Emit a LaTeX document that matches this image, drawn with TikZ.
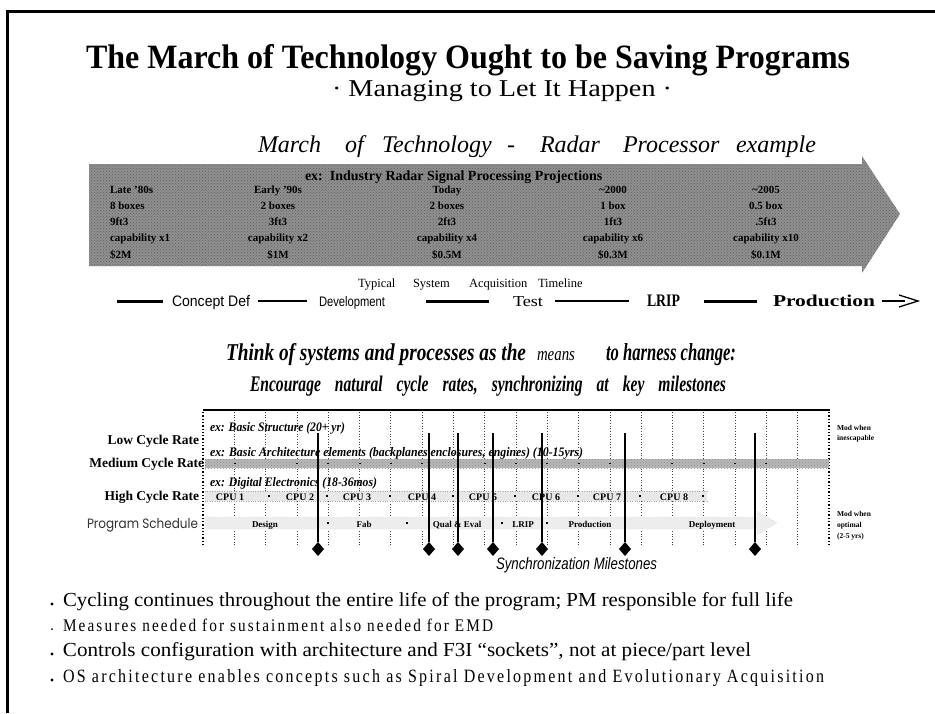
\documentclass[tikz,border=0pt]{standalone}
\usepackage{fontspec}
\usepackage{graphicx}
\setmainfont{Liberation Serif}
\setsansfont{Liberation Sans}
\newfontfamily\gothicfont{Poppins}
\usetikzlibrary{shapes.geometric,patterns,calc}
\newcommand{\fitbox}[3]{\resizebox{#1pt}{#2pt}{#3}}

\begin{document}
\begin{tikzpicture}[x=1pt,y=-1pt,
  every node/.style={inner sep=0pt,outer sep=0pt},
  lbl/.style={anchor=base west},
  bandtxt/.style={font=\fontsize{11}{11}\selectfont\bfseries},
  bandcol/.style={anchor=base,font=\fontsize{11}{11}\selectfont\bfseries},
  mword/.style={anchor=base west,font=\fontsize{24}{24}\selectfont\itshape},
  tword/.style={anchor=base west,font=\fontsize{12.5}{12.5}\selectfont},
  ratelbl/.style={anchor=base east,font=\fontsize{13.5}{14}\selectfont\bfseries},
  cpu/.style={anchor=base,font=\fontsize{10}{10}\selectfont\bfseries},
  sched/.style={anchor=base,font=\fontsize{9}{9}\selectfont\bfseries},
  modnote/.style={anchor=base west,font=\fontsize{7.5}{7.5}\selectfont\bfseries},
  gridline/.style={dotted,line width=0.7pt,black!75},
  stone/.style={diamond,fill=black,minimum width=12pt,minimum height=14pt},
  cpudot/.style={fill=black,minimum size=2.6pt},
  banddot/.style={fill=black,minimum size=1.8pt},
  thickphase/.style={line width=3pt},
  thinphase/.style={line width=1.5pt},
  bulletdot/.style={circle,fill=black,minimum size=3.4pt},
  bullettxt/.style={anchor=base west}
]
\useasboundingbox (0,0) rectangle (935,713);
\fill[white] (0,0) rectangle (935,713);

% page frame (left and top edges)
\draw[line width=3pt] (7,713) -- (7,11) -- (935,11);

% ---- headings ----
\node[lbl] (title) at (86,68) {\fitbox{764}{24}{\bfseries The March of Technology Ought to be Saving Programs}};
\node[lbl] (subtitle) at (332,96) {\fitbox{340}{16}{· Managing to Let It Happen ·}};

\node[mword] (w1) at (258,152) {March};
\node[mword] (w2) at (345,152) {of};
\node[mword] (w3) at (382,152) {Technology};
\node[mword] (w4) at (507,152) {-};
\node[mword] (w5) at (540,152) {Radar};
\node[mword] (w6) at (623,152) {Processor};
\node[mword] (w7) at (736,152) {example};

% ---- grey projection arrow ----
\path[fill=black!44] (89,164) -- (862,164) -- (862,156) -- (900,214) -- (862,273) -- (862,266) -- (89,266) -- cycle;
\path[pattern=crosshatch dots,pattern color=black!62] (89,164) -- (862,164) -- (862,156) -- (900,214) -- (862,273) -- (862,266) -- (89,266) -- cycle;

\node[lbl,font=\fontsize{14}{14}\selectfont\bfseries] (proj) at (305,180) {ex:\ \ Industry Radar Signal Processing Projections};

\node[lbl,bandtxt] (c1r1) at (110,193) {Late '80s};
\node[lbl,bandtxt] (c1r2) at (110,209) {8 boxes};
\node[lbl,bandtxt] (c1r3) at (110,225) {9ft3};
\node[lbl,bandtxt] (c1r4) at (110,241) {capability x1};
\node[lbl,bandtxt] (c1r5) at (110,258) {\$2M};

\node[bandcol] (c2r1) at (278,193) {Early '90s};
\node[bandcol] (c2r2) at (278,209) {2 boxes};
\node[bandcol] (c2r3) at (278,225) {3ft3};
\node[bandcol] (c2r4) at (278,241) {capability x2};
\node[bandcol] (c2r5) at (278,258) {\$1M};

\node[bandcol] (c3r1) at (447,193) {Today};
\node[bandcol] (c3r2) at (447,209) {2 boxes};
\node[bandcol] (c3r3) at (447,225) {2ft3};
\node[bandcol] (c3r4) at (447,241) {capability x4};
\node[bandcol] (c3r5) at (447,258) {\$0.5M};

\node[bandcol] (c4r1) at (613,193) {\textasciitilde2000};
\node[bandcol] (c4r2) at (613,209) {1 box};
\node[bandcol] (c4r3) at (613,225) {1ft3};
\node[bandcol] (c4r4) at (613,241) {capability x6};
\node[bandcol] (c4r5) at (613,258) {\$0.3M};

\node[bandcol] (c5r1) at (766,193) {\textasciitilde2005};
\node[bandcol] (c5r2) at (766,209) {0.5 box};
\node[bandcol] (c5r3) at (766,225) {.5ft3};
\node[bandcol] (c5r4) at (766,241) {capability x10};
\node[bandcol] (c5r5) at (766,258) {\$0.1M};

% ---- typical acquisition timeline ----
\node[tword] (t1) at (358,287) {Typical};
\node[tword] (t2) at (413,287) {System};
\node[tword] (t3) at (469,287) {Acquisition};
\node[tword] (t4) at (538,287) {Timeline};

\node[lbl] (cdef) at (172,306) {\fitbox{78}{11}{\sffamily Concept Def}};
\node[lbl] (dev) at (319,306) {\fitbox{66}{10}{\sffamily Development}};
\node[lbl] (test) at (513,306) {\fitbox{30}{10}{Test}};
\node[lbl] (lrip) at (647,306) {\fitbox{33}{11.5}{\bfseries LRIP}};
\node[lbl] (prod) at (773,306) {\fitbox{102}{11.5}{\bfseries Production}};

\coordinate (p0) at (117,301);
\coordinate (p1) at (163,301);
\coordinate (p2) at (258,301);
\coordinate (p3) at (307,301);
\coordinate (p4) at (426,301);
\coordinate (p5) at (489,301);
\coordinate (p6) at (555,301);
\coordinate (p7) at (629,301);
\coordinate (p8) at (704,301);
\coordinate (p9) at (757,301);
\coordinate (a0) at (882,301);
\coordinate (a1) at (905,301);
\coordinate (a2) at (918,301);
\draw[thickphase] (p0) -- (p1);
\draw[thinphase] (p2) -- (p3);
\draw[thickphase] (p4) -- (p5);
\draw[thinphase] (p6) -- (p7);
\draw[thickphase] (p8) -- (p9);
\draw[line width=2.2pt] (a0) -- (a1);
\draw[line width=1.3pt] ($(a2)+(-19,-6)$) -- (a2) -- ($(a2)+(-19,6)$);

% ---- message ----
\node[lbl] (think1) at (226,360) {\fitbox{300}{17}{\bfseries\itshape Think of systems and processes as the}};
\node[lbl] (think2) at (537,360) {\fitbox{38}{9}{\itshape means}};
\node[lbl] (think3) at (606,360) {\fitbox{130}{17}{\bfseries\itshape to harness change:}};
\node[lbl] (enc) at (250,391) {\fitbox{476}{15.5}{\bfseries\itshape Encourage\hspace{0.9em}natural\hspace{0.9em}cycle\hspace{0.9em}rates,\hspace{0.9em}synchronizing\hspace{0.9em}at\hspace{0.9em}key\hspace{0.9em}milestones}};

% ---- cycle-rate chart ----
\foreach \k in {1,...,19}
  \draw[gridline] ({203+31.3*\k},412) -- ({203+31.3*\k},546);
\draw[dotted,line width=1.3pt] (203,412) -- (203,546);
\draw[dotted,line width=1.3pt] (829,412) -- (829,546);
\draw[line width=2pt] (203,410) -- (830,410);

% medium-rate band
\fill[black!28] (205,459) rectangle (829,468);
\fill[pattern=crosshatch dots,pattern color=black!45] (205,459) rectangle (829,468);

% high-rate band
\fill[black!9] (205,491) rectangle (707,501);
\draw[dotted,black!35] (205,491) -- (707,491) (205,501) -- (707,501);

% schedule arrow
\path[fill=black!7,draw=black!30,dotted] (205,517) -- (757,517) -- (757,511) -- (777,523) -- (757,535) -- (757,529) -- (205,529) -- cycle;

\node[ratelbl] (low) at (199,444) {Low Cycle Rate};
\node[ratelbl] (med) at (204,467) {Medium Cycle Rate};
\node[ratelbl] (high) at (199,500) {High Cycle Rate};
\node[anchor=base east] (prog) at (198,528) {\fitbox{111}{10}{\color{black!80}\gothicfont Program Schedule}};

\node[lbl] (ex1) at (210,431) {\fitbox{135}{9}{\bfseries\itshape ex: Basic Structure (20+ yr)}};
\node[lbl] (ex2) at (210,456) {\fitbox{373}{9}{\bfseries\itshape ex: Basic Architecture elements (backplanes enclosures, engines) (10-15yrs)}};
\node[lbl] (ex3) at (210,486) {\fitbox{167}{9}{\bfseries\itshape ex: Digital Electronics (18-36mos)}};

\node[cpu] (cpu1) at (230,500) {CPU 1};
\node[cpu] (cpu2) at (300,500) {CPU 2};
\node[cpu] (cpu3) at (357,500) {CPU 3};
\node[cpu] (cpu4) at (422,500) {CPU 4};
\node[cpu] (cpu5) at (483,500) {CPU 5};
\node[cpu] (cpu6) at (546,500) {CPU 6};
\node[cpu] (cpu7) at (607,500) {CPU 7};
\node[cpu] (cpu8) at (674,500) {CPU 8};
\foreach \x in {269,327,390,453,515,578,640,703}
  \node[cpudot] at (\x,496) {};
\foreach \x in {235,297,328,360,391,422,485,516,547,579,610,672,704,735,766}
  \node[banddot] at (\x,463.5) {};

\node[sched] (design) at (265,527) {Design};
\node[sched] (fab) at (364,527) {Fab};
\node[sched] (qual) at (457,527) {Qual \& Eval};
\node[sched] (lripb) at (523,527) {LRIP};
\node[sched] (prodb) at (590,527) {Production};
\node[sched] (deploy) at (712,527) {Deployment};
\foreach \x in {328,407,502,547}
  \node[cpudot] at (\x,523) {};

\node[modnote] (mod1a) at (837,430) {Mod when};
\node[modnote] (mod1b) at (837,440) {inescapable};
\node[modnote] (mod2a) at (837,516) {Mod when};
\node[modnote] (mod2b) at (837,527) {optimal};
\node[modnote] (mod2c) at (837,538) {(2-5 yrs)};

% synchronization milestones
\foreach \x [count=\i] in {318,429,458,493,542,625,755} {
  \coordinate (mt\i) at (\x,433);
  \node[stone] (ms\i) at (\x,549) {};
  \draw[line width=1.3pt] (mt\i) -- (ms\i.north);
}
\node[lbl] (sync) at (496,569) {\fitbox{161}{12}{\sffamily\itshape Synchronization Milestones}};

% ---- bullet list ----
\node[bulletdot] (b1) at (52,604) {};
\node[bullettxt] (l1) at (63,606) {\fitbox{730}{14}{Cycling continues throughout the entire life of the program; PM responsible for full life}};
\node[circle,fill=black,minimum size=2pt] (b2) at (52,629) {};
\node[bullettxt] (l2) at (63,631) {\fitbox{430}{12.5}{\addfontfeature{LetterSpace=14}Measures needed for sustainment also needed for EMD}};
\node[bulletdot] (b3) at (52,654) {};
\node[bullettxt] (l3) at (63,656) {\fitbox{688}{14}{Controls configuration with architecture and F3I “sockets”, not at piece/part level}};
\node[bulletdot] (b4) at (52,680) {};
\node[bullettxt] (l4) at (63,682) {\fitbox{761}{13}{\addfontfeature{LetterSpace=14}OS architecture enables concepts such as Spiral Development and Evolutionary Acquisition}};
\end{tikzpicture}
\end{document}
